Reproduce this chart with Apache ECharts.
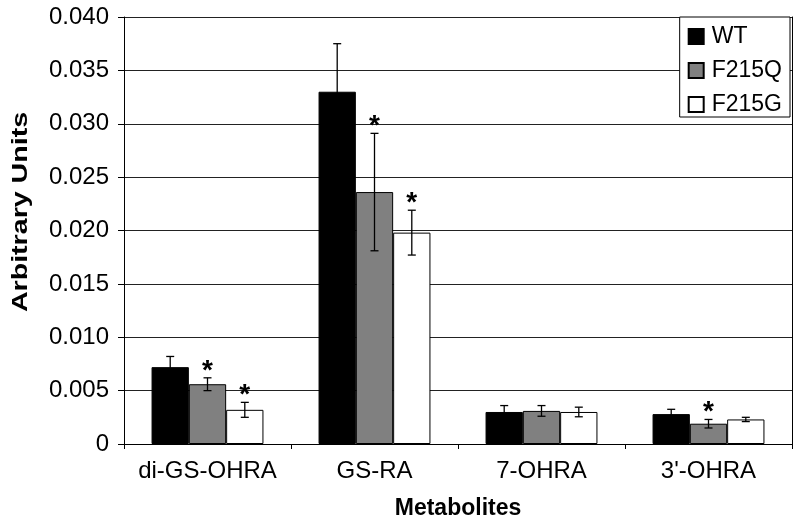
<!DOCTYPE html>
<html>
<head>
<meta charset="utf-8">
<script src="https://cdn.jsdelivr.net/npm/echarts@6/dist/echarts.min.js"></script>
<style>html,body{margin:0;padding:0;background:#fff;}#c{width:800px;height:527px;}</style>
</head>
<body>
<div id="c"></div>
<script>
var categories = ['di-GS-OHRA', 'GS-RA', '7-OHRA', "3'-OHRA"];
var seriesNames = ['WT', 'F215Q', 'F215G'];
var wtValues = [0.0072, 0.0330, 0.0030, 0.0028];
var wtErrors = [0.0010, 0.0045, 0.0006, 0.00045];
var wtStars = [0, 0, 0, 0];
var f215qValues = [0.0056, 0.0236, 0.0031, 0.0019];
var f215qErrors = [0.0006, 0.0055, 0.0005, 0.0004];
var f215qStars = [1, 1, 0, 1];
var f215gValues = [0.0032, 0.0198, 0.0030, 0.0023];
var f215gErrors = [0.0007, 0.0021, 0.00045, 0.0002];
var f215gStars = [1, 1, 0, 0];
var yTickLabels = ['0', '0.005', '0.010', '0.015', '0.020', '0.025', '0.030', '0.035', '0.040'];

var FONT = "'Liberation Sans', Arial, Helvetica, sans-serif";
var colors = ['#000000', '#808080', '#ffffff'];
var CAT_GAP = 0.33;
var groups = [
  {v: wtValues, e: wtErrors, s: wtStars},
  {v: f215qValues, e: f215qErrors, s: f215qStars},
  {v: f215gValues, e: f215gErrors, s: f215gStars}
];

var series = [];
groups.forEach(function (g, k) {
  series.push({
    name: seriesNames[k],
    type: 'bar',
    data: g.v,
    barGap: '0%',
    barCategoryGap: (CAT_GAP * 100) + '%',
    itemStyle: {color: colors[k], borderColor: '#000', borderWidth: 1},
    emphasis: {disabled: true},
    z: 3
  });
});
groups.forEach(function (g, k) {
  series.push({
    type: 'custom',
    silent: true,
    z: 5,
    data: g.v.map(function (v, i) { return [i, v, g.e[i], g.s[i]]; }),
    renderItem: function (params, api) {
      var ci = api.value(0), m = api.value(1), e = api.value(2), star = api.value(3);
      var band = api.size([1, 0])[0];
      var barW = band * (1 - CAT_GAP) / 3;
      var cx = api.coord([ci, m])[0] + (k - 1) * barW;
      var yTop = api.coord([ci, m + e])[1];
      var yBot = api.coord([ci, m - e])[1];
      var cap = 4;
      var st = {stroke: '#000', lineWidth: 1.3};
      var children = [
        {type: 'line', shape: {x1: cx, y1: yTop, x2: cx, y2: yBot}, style: st},
        {type: 'line', shape: {x1: cx - cap, y1: yTop, x2: cx + cap, y2: yTop}, style: st},
        {type: 'line', shape: {x1: cx - cap, y1: yBot, x2: cx + cap, y2: yBot}, style: st}
      ];
      if (star) {
        children.push({type: 'text', x: cx, y: yTop - 7, style: {text: '*', fill: '#000', font: 'bold 28px ' + FONT, textAlign: 'center', textVerticalAlign: 'middle'}});
      }
      return {type: 'group', children: children};
    }
  });
});

var chart = echarts.init(document.getElementById('c'));
chart.setOption({
  animation: false,
  backgroundColor: '#fff',
  textStyle: {fontFamily: FONT},
  grid: {left: 124, right: 8, top: 17, bottom: 83, containLabel: false},
  legend: {
    data: seriesNames,
    orient: 'vertical',
    right: 10,
    top: 17,
    align: 'left',
    icon: 'rect',
    itemWidth: 15,
    itemHeight: 15,
    itemGap: 11,
    padding: [8, 8, 1, 8],
    borderColor: '#000',
    borderWidth: 1,
    backgroundColor: '#fff',
    textStyle: {fontSize: 23, color: '#000', fontFamily: FONT, lineHeight: 23, padding: [0, 0, 0, 3]},
    selectedMode: false,
    z: 10
  },
  xAxis: {
    type: 'category',
    data: categories,
    name: 'Metabolites',
    nameLocation: 'middle',
    nameGap: 53,
    nameTextStyle: {fontSize: 23, fontWeight: 'bold', color: '#000', fontFamily: FONT},
    axisLine: {lineStyle: {color: '#000', width: 1}},
    axisTick: {show: true, length: 5, lineStyle: {color: '#000'}},
    axisLabel: {fontSize: 24, color: '#000', margin: 15, fontFamily: FONT, interval: 0},
    splitLine: {show: false}
  },
  yAxis: [{
    type: 'value',
    min: 0,
    max: 0.04,
    interval: 0.005,
    axisLine: {show: true, lineStyle: {color: '#000', width: 1}},
    axisTick: {show: true, length: 6, lineStyle: {color: '#000'}},
    axisLabel: {
      fontSize: 24, color: '#000', margin: 15, fontFamily: FONT,
      formatter: function (v) { return yTickLabels[Math.round(v / 0.005)]; }
    },
    splitLine: {show: true, lineStyle: {color: '#222', width: 1}}
  }, {
    type: 'value',
    min: 0,
    max: 0.04,
    interval: 0.005,
    position: 'right',
    axisLine: {show: true, lineStyle: {color: '#000', width: 1}},
    axisTick: {show: false},
    axisLabel: {show: false},
    splitLine: {show: false}
  }],
  graphic: [{
    type: 'text',
    x: 21,
    y: 212,
    rotation: Math.PI / 2,
    scaleX: 1.3,
    style: {text: 'Arbitrary Units', font: 'bold 22px ' + FONT, fill: '#000', textAlign: 'center', textVerticalAlign: 'middle'}
  }],
  series: series
});
</script>
</body>
</html>
